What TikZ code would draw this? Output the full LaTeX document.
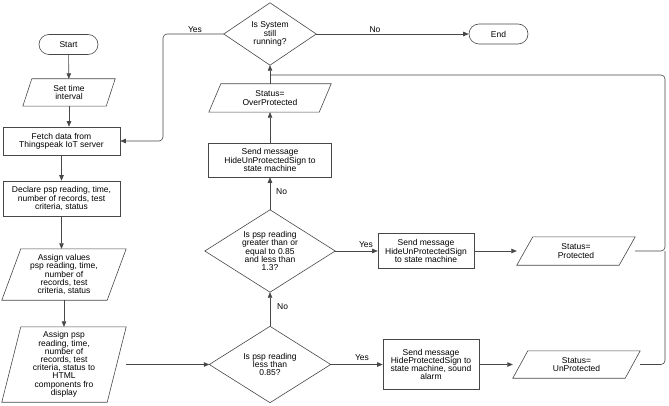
\documentclass[tikz,border=0pt]{standalone}
\usepackage{fontspec}
\setmainfont{Liberation Sans}
\usetikzlibrary{arrows.meta,shapes.misc}
\tikzset{
  ln/.style={draw=black!72, line width=0.6pt},
  arr/.style={ln, -{Triangle[length=5.5pt,width=4.5pt]}},
  txt/.style={font=\fontsize{8.5}{8.2}\selectfont, align=center, inner sep=0pt, text=black},
  term/.style={txt, rounded rectangle, ln, minimum width=59pt, minimum height=20pt},
  box/.style={txt, rectangle, ln},
  pnode/.style={txt, rectangle},
  dnode/.style={txt, rectangle},
  lbl/.style={font=\fontsize{8.5}{8.2}\selectfont, inner sep=0pt, text=black}
}
\newcommand\paraout[2]{\draw[ln] ([xshift=#2]#1.north west) -- (#1.north east) -- ([xshift=-#2]#1.south east) -- (#1.south west) -- cycle;}
\newcommand\diamout[1]{\draw[ln] (#1.north) -- (#1.east) -- (#1.south) -- (#1.west) -- cycle;}
\begin{document}
\begin{tikzpicture}[x=1pt,y=-1pt]
\useasboundingbox (0,0) rectangle (669,406);
% left column
\node[term] (start) at (68.5,44.5) {Start};
\node[pnode, minimum width=92pt, minimum height=27pt] (settime) at (69,92.5) {Set time\\interval};
\paraout{settime}{9pt}
\node[box, minimum width=117pt, minimum height=28pt] (fetch) at (61.5,141) {Fetch data from\\Thingspeak IoT server};
\node[box, minimum width=117pt, minimum height=35pt] (declare) at (61.5,198.5) {Declare psp reading, time,\\number of records, test\\criteria, status};
\node[pnode, minimum width=124pt, minimum height=51pt] (assignv) at (64,274.5) {Assign values\\psp reading, time,\\number of\\records, test\\criteria, status};
\paraout{assignv}{19pt}
\node[pnode, minimum width=124pt, minimum height=75pt] (assignp) at (64,364.5) {Assign psp\\reading, time,\\number of\\records, test\\criteria, status to\\HTML\\components fro\\display};
\paraout{assignp}{19pt}
% spine
\node[dnode, minimum width=92pt, minimum height=62pt] (run) at (270,34) {Is System\\still\\running?};
\diamout{run}
\node[pnode, minimum width=122pt, minimum height=28pt] (overp) at (270,98) {Status=\\OverProtected};
\paraout{overp}{12pt}
\node[box, minimum width=123pt, minimum height=34pt] (hideu) at (270,160) {Send message\\HideUnProtectedSign to\\state machine};
\node[dnode, minimum width=130pt, minimum height=82pt] (q2) at (270,251) {Is psp reading\\greater than or\\equal to 0.85\\and less than\\1.3?};
\diamout{q2}
\node[dnode, minimum width=121pt, minimum height=76pt] (q1) at (270,364.5) {Is psp reading\\less than\\0.85?};
\diamout{q1}
% right
\node[term] (end) at (498.5,34) {End};
\node[box, minimum width=96pt, minimum height=35pt] (boxu) at (426,251) {Send message\\HideUnProtectedSign\\to state machine};
\node[box, minimum width=96pt, minimum height=50pt] (boxp) at (431,364.5) {Send message\\HideProtectedSign to\\state machine, sound\\alarm};
\node[pnode, minimum width=118pt, minimum height=28pt] (prot) at (576,251) {Status=\\Protected};
\paraout{prot}{16pt}
\node[pnode, minimum width=127pt, minimum height=27pt] (unprot) at (576.5,364.5) {Status=\\UnProtected};
\paraout{unprot}{15pt}
% coordinates
\coordinate (ycor) at (163,141);
\coordinate (rt) at (665,75);
\coordinate (rm) at (665,251);
\coordinate (jn) at (270,75);
% connectors
\draw[arr] (start) -- (settime);
\draw[arr] (settime.south) -- (settime.south |- fetch.north);
\draw[arr] (fetch) -- (declare);
\draw[arr] (declare.south) -- (declare.south |- assignv.north);
\draw[arr] (assignv) -- (assignp);
\draw[arr] (assignp.east) -- (q1.west);
\draw[arr] (q1.north) -- (q2.south);
\draw[arr] (q2.north) -- (hideu.south);
\draw[arr] (hideu.north) -- (overp.south);
\draw[arr] (overp.north) -- (run.south);
\draw[arr] (run.east) -- (end.west);
\draw[arr, rounded corners=4pt] (run.west) -| (ycor) -- (fetch.east);
\draw[arr] (q2.east) -- (boxu.west);
\draw[arr] (q1.east) -- (boxp.west);
\draw[arr] (boxu.east) -- (prot.west);
\draw[arr] (boxp.east) -- (unprot.west);
\draw[ln, rounded corners=4pt] (prot.east) -| (rt) -- (jn);
\draw[ln, rounded corners=4pt] (unprot.east) -| (rm);
% labels
\node[lbl] at (195,30) {Yes};
\node[lbl] at (375,30) {No};
\node[lbl, anchor=west] at (276,192) {No};
\node[lbl, anchor=west] at (277,307) {No};
\node[lbl] at (366,245) {Yes};
\node[lbl] at (362,358) {Yes};
\end{tikzpicture}
\end{document}
